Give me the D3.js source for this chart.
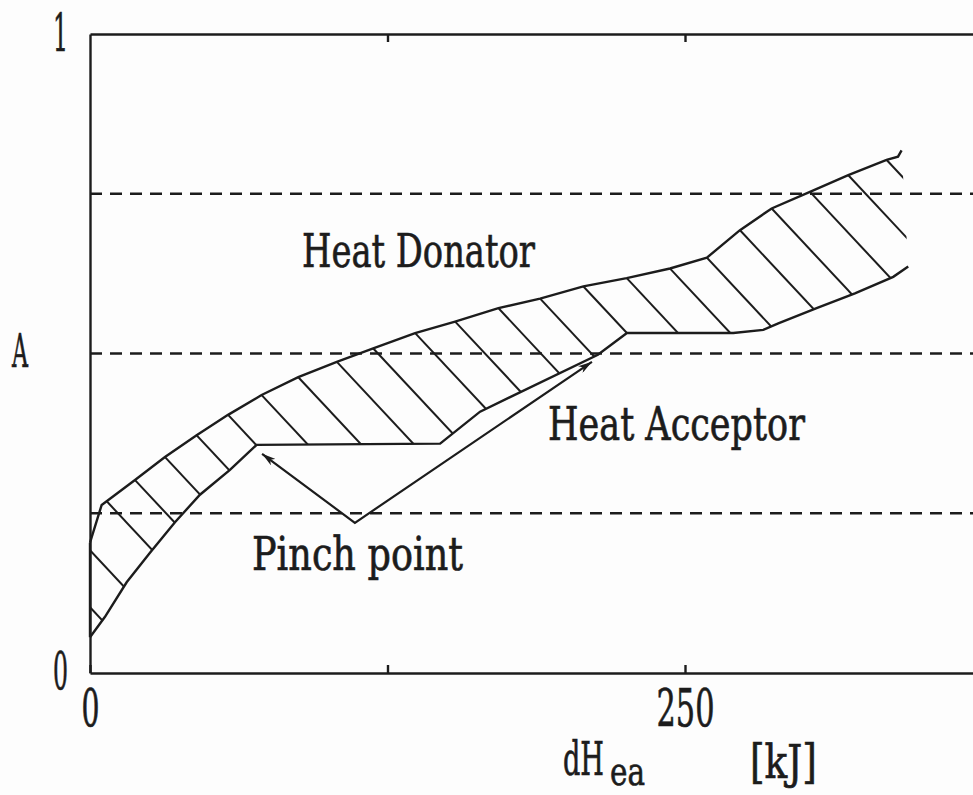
<!DOCTYPE html>
<html>
<head>
<meta charset="utf-8">
<script src="https://cdn.jsdelivr.net/npm/d3@7"></script>
<style>
  body { margin: 0; background: #fdfdfd; }
  text { font-family: "DejaVu Serif", "Liberation Serif", serif; fill: #1c1c1c; stroke: #1c1c1c; stroke-width: 0.7px; }
</style>
</head>
<body>
<script>
// donor (hot) curve, dH [kJ] vs A
let donorH = [0, 4.9, 18.9, 31.5, 44.8, 58.0, 72.1, 87.5, 103.7, 119.0, 136.6, 153.4, 171.6, 189.1, 207.3, 225.5, 243.7, 259.2, 273.1, 286.4, 302.5, 318.6, 334.7, 339.5, 341.0];
let donorA = [0.204, 0.263, 0.302, 0.338, 0.372, 0.404, 0.435, 0.463, 0.487, 0.508, 0.532, 0.550, 0.571, 0.586, 0.605, 0.618, 0.633, 0.650, 0.693, 0.727, 0.753, 0.779, 0.803, 0.808, 0.818];

// acceptor (cold) curve
let acceptorH = [0, 6.3, 15.4, 25.2, 35.7, 46.2, 58.8, 70.0, 147.1, 163.9, 213.4, 225.6, 270.3, 282.9, 289.2, 305.3, 321.4, 337.5, 343.8];
let acceptorA = [0.056, 0.088, 0.142, 0.188, 0.236, 0.279, 0.318, 0.357, 0.359, 0.409, 0.498, 0.532, 0.532, 0.537, 0.547, 0.571, 0.594, 0.620, 0.636];

// hatch lines: start points on the left edge, then positions along the donor curve
let edgeHatchA = [0.103, 0.192];
let hatchH = [7, 18.9, 31.5, 44.8, 58.0, 72.1, 87.5, 103.7, 119.0, 136.6, 153.4, 171.6, 189.1, 207.3, 225.5, 243.7, 259.2, 273.1, 286.4, 302.5, 318.6, 334.7];

let levels = [0.25, 0.5, 0.75];
let xTicks = [0, 125, 250];
let xTickLabels = ["0", "", "250"];
let yTicks = [0, 1];
let yTickLabels = ["0", "1"];

// pinch point arrows: left tip, corner, right tip
let pinchH = [72.3, 111.3, 210.9];
let pinchA = [0.343, 0.235, 0.487];

let svgWidth = 973;
let svgHeight = 795;
let ink = "#1c1c1c";

let svg = d3.select("body")
    .append("svg")
    .attr("width", svgWidth)
    .attr("height", svgHeight)

let x = d3.scaleLinear().domain([0, 400]).range([90, 1042]);
let y = d3.scaleLinear().domain([0, 1]).range([673, 34]);

let donor = donorH.map((h, i) => [h, donorA[i]]);
let acceptor = acceptorH.map((h, i) => [h, acceptorA[i]]);
let line = d3.line().x(d => x(d[0])).y(d => y(d[1]));

// squeeze a text horizontally to width w, left edge at (tx, ty) baseline
function squeeze(sel, tx, ty, w, anchor) {
    let n = sel.node().getComputedTextLength();
    let k = w / n;
    let left = anchor === "middle" ? tx - w / 2 : tx;
    sel.attr("x", 0).attr("y", 0).attr("text-anchor", "start")
        .attr("transform", `translate(${left},${ty}) scale(${k},1)`);
}

// band clip
svg.append("clipPath")
    .attr("id", "band")
    .append("path")
    .attr("d", line(donor.concat(acceptor.slice().reverse())) + "Z");

// dashed levels
svg.selectAll(".level")
    .data(levels)
    .enter()
    .append("line")
    .attr("x1", x(0))
    .attr("x2", x(400))
    .attr("y1", d => y(d))
    .attr("y2", d => y(d))
    .attr("stroke", ink)
    .attr("stroke-width", 2.6)
    .attr("stroke-dasharray", "12,8");

// axes
let bottomAxis = d3.axisBottom(x).tickValues(xTicks).tickSizeInner(-8).tickSizeOuter(0)
    .tickFormat((d, i) => xTickLabels[i]);
let topAxis = d3.axisTop(x).tickValues([125, 250]).tickSizeInner(-8).tickSizeOuter(0).tickFormat("");
let leftAxis = d3.axisLeft(y).tickValues(yTicks).tickSize(0).tickFormat((d, i) => yTickLabels[i]);

let gb = svg.append("g").attr("transform", "translate(0,673)").call(bottomAxis);
let gt = svg.append("g").attr("transform", "translate(0,34)").call(topAxis);
let gl = svg.append("g").attr("transform", "translate(90,0)").call(leftAxis);

[gb, gt, gl].forEach(g => {
    g.attr("font-family", null).attr("font-size", null);
    g.select(".domain").attr("stroke", ink).attr("stroke-width", 2.4);
    g.selectAll(".tick line").attr("stroke", ink).attr("stroke-width", 2.4);
});

gb.selectAll(".tick text")
    .attr("dy", null)
    .attr("font-size", 52)
    .each(function (d) {
        if (this.textContent) squeeze(d3.select(this), 0, 53, d === 250 ? 58 : 18, "middle");
    });

gl.selectAll(".tick text")
    .attr("dy", null)
    .attr("font-size", 52)
    .each(function (d) { squeeze(d3.select(this), -37, d === 0 ? 15 : 16, 15); });

// band outline
svg.append("path")
    .attr("d", line(donor))
    .attr("fill", "none")
    .attr("stroke", ink)
    .attr("stroke-width", 2.4);

svg.append("path")
    .attr("d", line(acceptor))
    .attr("fill", "none")
    .attr("stroke", ink)
    .attr("stroke-width", 2.4);

svg.append("line")
    .attr("x1", x(0)).attr("x2", x(0))
    .attr("y1", y(acceptorA[0])).attr("y2", y(donorA[0]))
    .attr("stroke", ink)
    .attr("stroke-width", 2.4);

// hatching
let starts = edgeHatchA.map(a => [0, a])
    .concat(hatchH.map(h => [h, d3.scaleLinear().domain(donorH).range(donorA)(h)]));
let slope = 1.07;

svg.append("g")
    .attr("clip-path", "url(#band)")
    .selectAll("line")
    .data(starts)
    .enter()
    .append("line")
    .attr("x1", d => x(d[0]) - 6)
    .attr("y1", d => y(d[1]) - 6 * slope)
    .attr("x2", d => x(d[0]) + 160)
    .attr("y2", d => y(d[1]) + 160 * slope)
    .attr("stroke", ink)
    .attr("stroke-width", 2);

// pinch arrows
svg.append("defs").append("marker")
    .attr("id", "head")
    .attr("viewBox", "0 0 14 8")
    .attr("refX", 14).attr("refY", 4)
    .attr("markerWidth", 14).attr("markerHeight", 8)
    .attr("markerUnits", "userSpaceOnUse")
    .attr("orient", "auto-start-reverse")
    .append("path")
    .attr("d", "M0,0 L14,4 L0,8 L4,4 Z")
    .attr("fill", ink);

svg.append("path")
    .attr("d", line(pinchH.map((h, i) => [h, pinchA[i]])))
    .attr("fill", "none")
    .attr("stroke", ink)
    .attr("stroke-width", 2.2)
    .attr("marker-start", "url(#head)")
    .attr("marker-end", "url(#head)");

// labels
let labels = [
    { t: "Heat Donator", x: 302, y: 267, w: 233, s: 47 },
    { t: "Heat Acceptor", x: 548, y: 440, w: 257, s: 47 },
    { t: "Pinch point", x: 252, y: 570, w: 211, s: 47 },
    { t: "A", x: 12, y: 367, w: 16, s: 47 },
    { t: "dH", x: 563, y: 775, w: 41, s: 47 },
    { t: "ea", x: 610, y: 785, w: 35, s: 40 },
    { t: "[kJ]", x: 750, y: 778, w: 67, s: 47 }
];

svg.selectAll(".label")
    .data(labels)
    .enter()
    .append("text")
    .attr("class", "label")
    .attr("font-size", d => d.s)
    .text(d => d.t)
    .each(function (d) { squeeze(d3.select(this), d.x, d.y, d.w); });
</script>
</body>
</html>
